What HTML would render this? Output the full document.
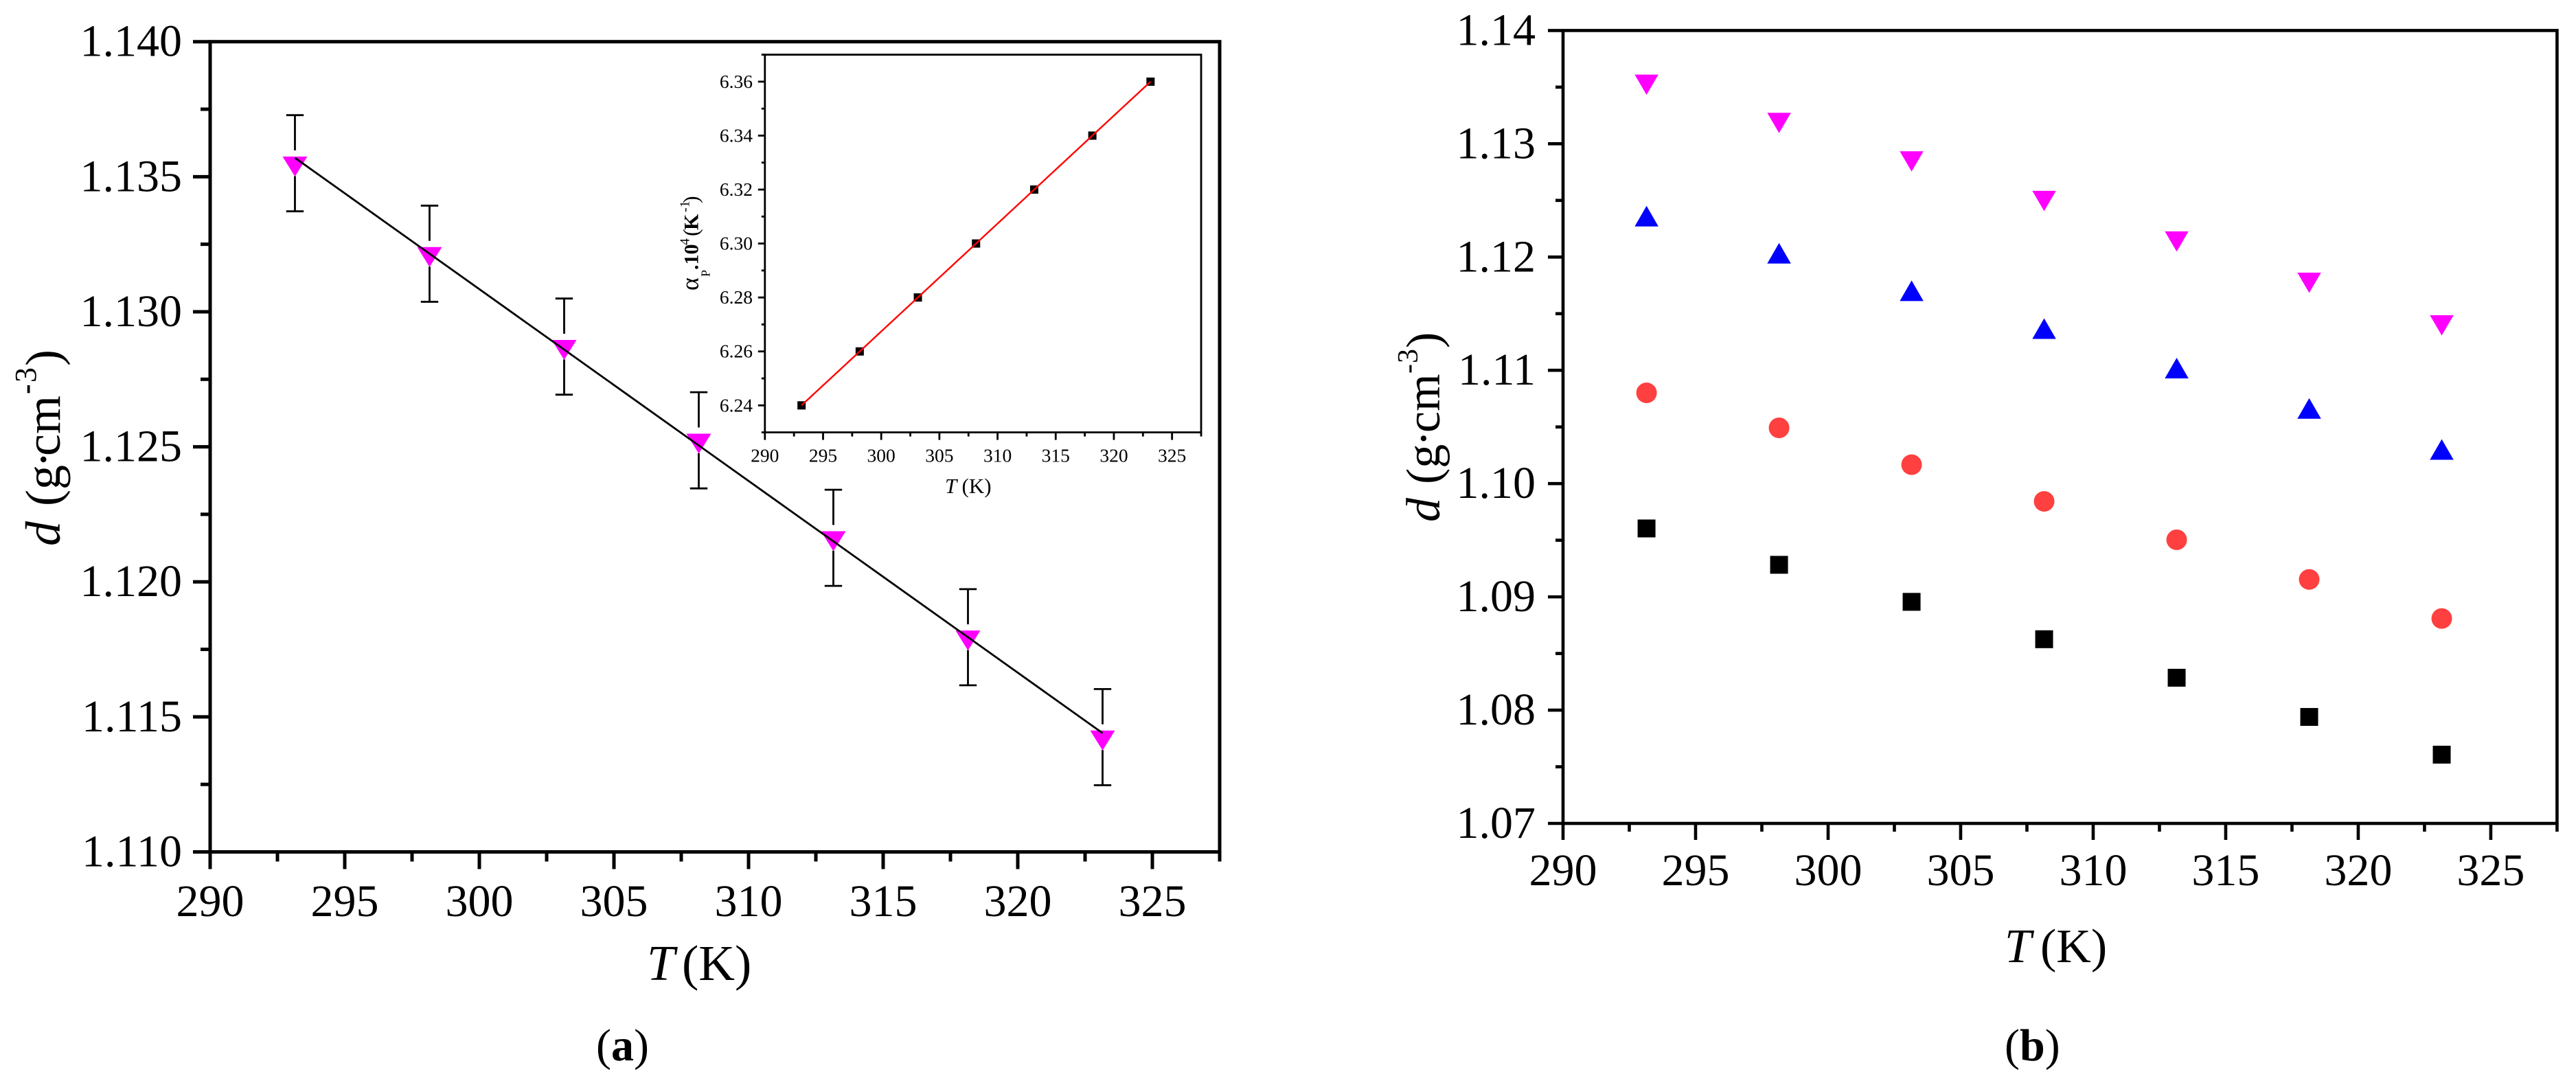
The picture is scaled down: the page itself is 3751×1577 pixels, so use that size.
<!DOCTYPE html>
<html lang="en">
<head>
<meta charset="utf-8">
<title>Density versus temperature charts</title>
<style>
  html, body { margin: 0; padding: 0; background: #ffffff; }
  svg { display: block; }
  text { font-family: "Liberation Serif", "DejaVu Serif", serif; fill: #000000; }
</style>
</head>
<body>
<svg id="figure" xmlns="http://www.w3.org/2000/svg" width="3751" height="1577" viewBox="0 0 3751 1577">
  <rect x="0" y="0" width="3751" height="1577" fill="#ffffff"/>

  <g id="panel-a"></g>
  <g id="panel-a-inset"></g>
  <g id="panel-b"></g>

  <text transform="translate(87,795) rotate(-90)" font-size="72"><tspan x="0" font-style="italic">d</tspan><tspan x="58">(g</tspan><tspan x="114">·</tspan><tspan x="131">cm</tspan><tspan x="221" y="-35" font-size="44" font-weight="bold">-</tspan><tspan x="238" y="-35" font-size="44">3</tspan><tspan x="262" y="0">)</tspan></text>
  <text y="1427" font-size="73"><tspan x="942" font-style="italic">T</tspan><tspan x="993">(K)</tspan></text>
  <text x="868" y="1544" font-size="66">(<tspan font-weight="bold">a</tspan>)</text>

  <text transform="translate(1016.7,423) rotate(-90)" font-size="32"><tspan x="0" font-size="36">α</tspan><tspan x="20" y="17" font-size="18">P</tspan><tspan x="30" y="0" font-weight="bold" font-size="30">.10</tspan><tspan x="66" y="-13" font-size="20">4</tspan><tspan x="79" y="0">(</tspan><tspan x="88" font-weight="bold" font-size="30">K</tspan><tspan x="114" y="-13" font-size="20">-1</tspan><tspan x="127" y="0">)</tspan></text>
  <text y="718" font-size="31"><tspan x="1376" font-style="italic">T</tspan><tspan x="1400.5">(K)</tspan></text>

  <text transform="translate(2096,760) rotate(-90)" font-size="70"><tspan x="0" font-style="italic">d</tspan><tspan x="55">(g</tspan><tspan x="110">·</tspan><tspan x="130">cm</tspan><tspan x="216" y="-32" font-size="42">-</tspan><tspan x="231" y="-32" font-size="42">3</tspan><tspan x="253" y="0">)</tspan></text>
  <text y="1401" font-size="70"><tspan x="2919" font-style="italic">T</tspan><tspan x="2971">(K)</tspan></text>
  <text x="2919" y="1544" font-size="66">(<tspan font-weight="bold">b</tspan>)</text>
</svg>

<script>
// ---- Data ----
const temperatures = [293.15, 298.15, 303.15, 308.15, 313.15, 318.15, 323.15];

// Panel (a)
const densityA = [1.1355, 1.13215, 1.12871, 1.12524, 1.12163, 1.11795, 1.11425];
const errorA = [0.00178, 0.00178, 0.00178, 0.00178, 0.00178, 0.00178, 0.00178];
const fitTemperatureA = [293.15, 323.15];
const fitDensityA = [1.1357, 1.1144];
const xTickValues = [290, 295, 300, 305, 310, 315, 320, 325];
const xTickLabels = ['290', '295', '300', '305', '310', '315', '320', '325'];
const xMinorTicks = [292.5, 297.5, 302.5, 307.5, 312.5, 317.5, 322.5, 327.5];
const yTickLabelsA = ['1.110', '1.115', '1.120', '1.125', '1.130', '1.135', '1.140'];
const yMinorTicksA = [1.1125, 1.1175, 1.1225, 1.1275, 1.1325, 1.1375];

// Inset of panel (a)
const alphaInset = [6.24, 6.26, 6.28, 6.30, 6.32, 6.34, 6.36];
const fitTemperatureInset = [293.15, 323.15];
const fitAlphaInset = [6.24, 6.36];
const yTickLabelsInset = ['6.24', '6.26', '6.28', '6.30', '6.32', '6.34', '6.36'];
const yMinorTicksInset = [6.23, 6.25, 6.27, 6.29, 6.31, 6.33, 6.35, 6.37];

// Panel (b)
const densityMagenta = [1.13551, 1.13214, 1.12874, 1.12525, 1.12167, 1.11803, 1.11427];
const densityBlue = [1.12331, 1.12003, 1.11672, 1.11338, 1.10989, 1.10633, 1.10271];
const densityRed = [1.10801, 1.10492, 1.10167, 1.09843, 1.09504, 1.09154, 1.08809];
const densityBlack = [1.09604, 1.09283, 1.08956, 1.08626, 1.08286, 1.0794, 1.07607];
const yTickLabelsB = ['1.07', '1.08', '1.09', '1.10', '1.11', '1.12', '1.13', '1.14'];
const yMinorTicksB = [1.075, 1.085, 1.095, 1.105, 1.115, 1.125, 1.135];

// ---- Helpers ----
const SVG_NS = 'http://www.w3.org/2000/svg';
function svgEl(tag, parent) {
  const el = document.createElementNS(SVG_NS, tag);
  parent.appendChild(el);
  return el;
}
function linear(d0, d1, r0, r1) {
  return function (v) { return r0 + (v - d0) * (r1 - r0) / (d1 - d0); };
}
function lineAttrs(el, x1, y1, x2, y2, color, width) {
  el.setAttribute('x1', x1);
  el.setAttribute('y1', y1);
  el.setAttribute('x2', x2);
  el.setAttribute('y2', y2);
  el.setAttribute('stroke', color);
  el.setAttribute('stroke-width', width);
}

function drawAxes(g, o) {
  const frame = svgEl('rect', g);
  
  
  frame.setAttribute('x', o.left);
  frame.setAttribute('y', o.top);
  frame.setAttribute('width', o.right - o.left);
  frame.setAttribute('height', o.bottom - o.top);
  frame.setAttribute('fill', 'none');
  frame.setAttribute('stroke', '#000');
  frame.setAttribute('stroke-width', o.stroke);

  o.xTickValues.forEach(function (v, i) {
    const t = svgEl('line', g);
    
    
    lineAttrs(t, o.x(v), o.bottom, o.x(v), o.bottom + o.major, '#000', o.stroke);
    const label = svgEl('text', g);
    
    
    label.setAttribute('x', o.x(v));
    label.setAttribute('y', o.xLabelY);
    label.setAttribute('font-size', o.font);
    label.setAttribute('text-anchor', 'middle');
    label.textContent = o.xTickLabels[i];
  });
  o.xMinorTicks.forEach(function (v) {
    const t = svgEl('line', g);
    
    
    lineAttrs(t, o.x(v), o.bottom, o.x(v), o.bottom + o.minor, '#000', o.stroke);
  });
  o.yTickLabels.forEach(function (text) {
    const v = parseFloat(text);
    const t = svgEl('line', g);
    
    
    lineAttrs(t, o.left, o.y(v), o.left - o.majorY, o.y(v), '#000', o.stroke);
    const label = svgEl('text', g);
    
    
    label.setAttribute('x', o.yLabelX);
    label.setAttribute('y', o.y(v) + o.yLabelDy);
    label.setAttribute('font-size', o.font);
    label.setAttribute('text-anchor', 'end');
    label.textContent = text;
  });
  o.yMinorTicks.forEach(function (v) {
    const t = svgEl('line', g);
    
    
    lineAttrs(t, o.left, o.y(v), o.left - o.minorY, o.y(v), '#000', o.stroke);
  });
}

function triangleDownPoints(cx, cy, w, h) {
  return (cx - w / 2) + ',' + (cy - h / 3) + ' ' + (cx + w / 2) + ',' + (cy - h / 3) + ' ' + cx + ',' + (cy + 2 * h / 3);
}
function triangleUpPoints(cx, cy, w, h) {
  return (cx - w / 2) + ',' + (cy + h / 3) + ' ' + (cx + w / 2) + ',' + (cy + h / 3) + ' ' + cx + ',' + (cy - 2 * h / 3);
}

// ---- Panel (a) ----
const panelA = document.getElementById('panel-a');
const xA = linear(290, 327.5, 306, 1776);
const yA = linear(1.11, 1.14, 1240.5, 60.7);
drawAxes(panelA, {
  left: 306, right: 1776, top: 60.7, bottom: 1240.5, stroke: 5,
  major: 25, minor: 14, majorY: 25, minorY: 14,
  x: xA, y: yA, font: 66, xLabelY: 1334, yLabelX: 265, yLabelDy: 21,
  xTickValues: xTickValues, xTickLabels: xTickLabels, xMinorTicks: xMinorTicks,
  yTickLabels: yTickLabelsA, yMinorTicks: yMinorTicksA
});

temperatures.forEach(function (T, i) {
  const cx = xA(T);
  const cy = yA(densityA[i]);
  const hi = yA(densityA[i] + errorA[i]);
  const lo = yA(densityA[i] - errorA[i]);
  const gap = 18.7;
  const upper = svgEl('line', panelA);
  
  
  lineAttrs(upper, cx, hi, cx, cy - gap, '#000', 2.8);
  const lower = svgEl('line', panelA);
  
  
  lineAttrs(lower, cx, cy + gap, cx, lo, '#000', 2.8);
  const capTop = svgEl('line', panelA);
  
  
  lineAttrs(capTop, cx - 12.7, hi, cx + 12.7, hi, '#000', 2.8);
  const capBottom = svgEl('line', panelA);
  
  
  lineAttrs(capBottom, cx - 12.7, lo, cx + 12.7, lo, '#000', 2.8);
  const marker = svgEl('polygon', panelA);
  
  
  marker.setAttribute('points', triangleDownPoints(cx, cy, 36, 29));
  marker.setAttribute('fill', '#ff00ff');
});

const fitLineA = svgEl('line', panelA);


lineAttrs(fitLineA, xA(fitTemperatureA[0]), yA(fitDensityA[0]), xA(fitTemperatureA[1]), yA(fitDensityA[1]), '#000', 2.8);

// ---- Inset ----
const panelInset = document.getElementById('panel-a-inset');
const xI = linear(290, 327.5, 1113.8, 1749);
const yI = linear(6.24, 6.36, 590.3, 118.9);
drawAxes(panelInset, {
  left: 1113.8, right: 1749, top: yI(6.37), bottom: yI(6.23), stroke: 2.8,
  major: 11, minor: 6, majorY: 10, minorY: 5,
  x: xI, y: yI, font: 27.5, xLabelY: 672.5, yLabelX: 1096, yLabelDy: 9,
  xTickValues: xTickValues, xTickLabels: xTickLabels, xMinorTicks: xMinorTicks,
  yTickLabels: yTickLabelsInset, yMinorTicks: yMinorTicksInset
});
temperatures.forEach(function (T, i) {
  const marker = svgEl('rect', panelInset);
  
  
  marker.setAttribute('x', xI(T) - 6);
  marker.setAttribute('y', yI(alphaInset[i]) - 6);
  marker.setAttribute('width', 12);
  marker.setAttribute('height', 12);
  marker.setAttribute('fill', '#000');
});
const fitLineInset = svgEl('line', panelInset);


lineAttrs(fitLineInset, xI(fitTemperatureInset[0]), yI(fitAlphaInset[0]), xI(fitTemperatureInset[1]), yI(fitAlphaInset[1]), '#ff0000', 2.4);

// ---- Panel (b) ----
const panelB = document.getElementById('panel-b');
const xB = linear(290, 327.5, 2276, 3723.4);
const yB = linear(1.07, 1.14, 1199, 44.4);
drawAxes(panelB, {
  left: 2276, right: 3723.4, top: 44.4, bottom: 1199, stroke: 4.6,
  major: 24, minor: 12, majorY: 22, minorY: 11,
  x: xB, y: yB, font: 66, xLabelY: 1289, yLabelX: 2236, yLabelDy: 21,
  xTickValues: xTickValues, xTickLabels: xTickLabels, xMinorTicks: xMinorTicks,
  yTickLabels: yTickLabelsB, yMinorTicks: yMinorTicksB
});
temperatures.forEach(function (T, i) {
  const cx = xB(T);
  const black = svgEl('rect', panelB);
  
  
  black.setAttribute('x', cx - 13);
  black.setAttribute('y', yB(densityBlack[i]) - 13);
  black.setAttribute('width', 26);
  black.setAttribute('height', 26);
  black.setAttribute('fill', '#000');
  const red = svgEl('circle', panelB);
  
  
  red.setAttribute('cx', cx);
  red.setAttribute('cy', yB(densityRed[i]));
  red.setAttribute('r', 15);
  red.setAttribute('fill', '#ff4040');
  const blue = svgEl('polygon', panelB);
  
  
  blue.setAttribute('points', triangleUpPoints(cx, yB(densityBlue[i]), 34.5, 30));
  blue.setAttribute('fill', '#0000ff');
  const magenta = svgEl('polygon', panelB);
  
  
  magenta.setAttribute('points', triangleDownPoints(cx, yB(densityMagenta[i]), 34.5, 29.5));
  magenta.setAttribute('fill', '#ff00ff');
});
</script>
</body>
</html>
